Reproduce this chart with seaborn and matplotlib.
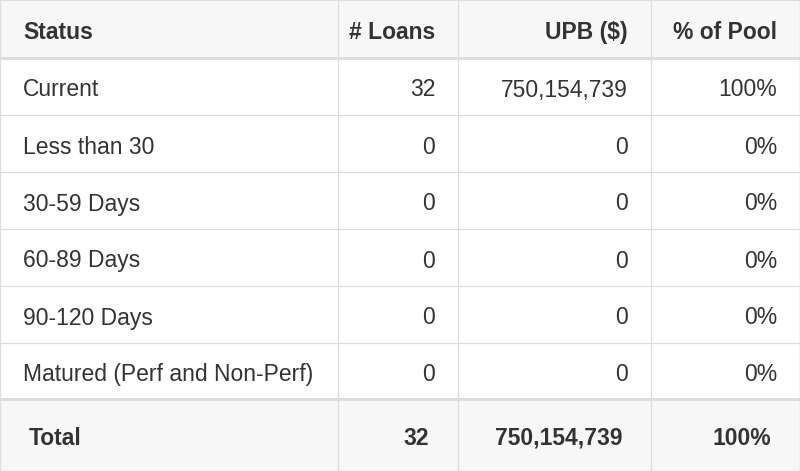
import matplotlib
matplotlib.use("Agg")
import matplotlib.pyplot as plt
import seaborn as sns

# Data
columns = ["Status", "# Loans", "UPB ($)", "% of Pool"]
statuses = ["Current", "Less than 30", "30-59 Days", "60-89 Days", "90-120 Days",
            "Matured (Perf and Non-Perf)"]
loans = [32, 0, 0, 0, 0, 0]
upb = [750154739, 0, 0, 0, 0, 0]
pct_pool = [100, 0, 0, 0, 0, 0]
total_label = "Total"
total_loans = 32
total_upb = 750154739
total_pct = 100

sns.set_theme(style="white")
plt.rcParams['font.family'] = ['Liberation Sans', 'DejaVu Sans']

W, H = 800, 471
fig = plt.figure(figsize=(8, 4.71), dpi=100)
ax = fig.add_axes([0, 0, 1, 1])
ax.set_xlim(0, W)
ax.set_ylim(H, 0)
ax.axis("off")

border = "#dddddd"
txt = "#333333"
head_bg = "#f7f7f7"
col_x = [0, 338, 458, 651, W]
row_y = [0, 58, 115, 172, 229, 286, 343, 399, H]

# backgrounds
ax.add_patch(plt.Rectangle((0, 0), W, row_y[1], color=head_bg, lw=0))
ax.add_patch(plt.Rectangle((0, row_y[-2]), W, H - row_y[-2], color=head_bg, lw=0))

# grid lines
for i, y in enumerate(row_y):
    lw = 2.2 if i in (1, len(row_y) - 2) else 0.9
    ax.plot([0, W], [y, y], color=border, lw=lw, solid_capstyle="butt")
for x in col_x:
    ax.plot([x, x], [0, H], color=border, lw=0.9)
ax.plot([W - 0.5, W - 0.5], [0, H], color=border, lw=1)
ax.plot([0, W], [H - 0.5, H - 0.5], color=border, lw=1)

fs = 16.5
pad = 23


def row(y0, y1, vals, bold=False, inset=0):
    yc = (y0 + y1) / 2 + 1
    w = "bold" if bold else "normal"
    ax.text(pad + inset, yc, vals[0], ha="left", va="center_baseline",
            fontsize=fs, color=txt, fontweight=w)
    for j in range(1, 4):
        ax.text(col_x[j + 1] - pad - inset, yc, vals[j],
                ha="right", va="center_baseline", fontsize=fs, color=txt, fontweight=w)


row(row_y[0], row_y[1], columns, bold=True)
for k, s in enumerate(statuses):
    row(row_y[k + 1], row_y[k + 2],
        [s, f"{loans[k]}", f"{upb[k]:,}", f"{pct_pool[k]}%"])
row(row_y[-2], H, [total_label, f"{total_loans}", f"{total_upb:,}", f"{total_pct}%"],
    bold=True, inset=6)

fig.savefig("out.png", dpi=100)
